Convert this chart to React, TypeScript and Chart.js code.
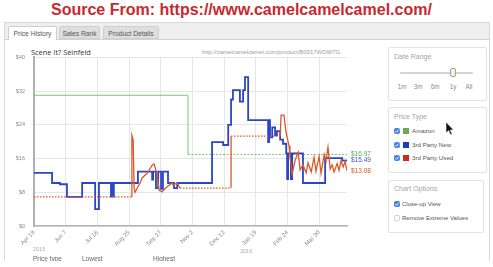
import React, { useEffect, useRef } from 'react';
import { Chart, registerables } from 'chart.js';

Chart.register(...registerables);

// ---- data (x = position measured in x-axis tick intervals, y = price in $) ----
const xTickLabels = ['Apr 19', 'Jun 7', 'Jul 16', 'Aug 25', 'Sep 27', 'Nov 2', 'Dec 12', 'Jan 19', 'Feb 24', 'Mar 30'];
const xEnd = 9.88;
const yMax = 40;
const yStep = 8;

const amazonPrices: [number, number][] = [
  [0, 31], [4.86, 16.97], [9.88, 16.97],
];

const newPrices: [number, number][] = [
  [0, 12.6], [0.57, 10.2], [0.82, 9.9], [1.04, 6.9], [1.52, 10.2], [1.93, 4.0], [2.05, 10.2],
  [2.43, 7.0], [2.46, 10.2], [2.49, 7.0], [2.52, 10.2], [3.28, 12.9], [3.73, 11.0], [3.76, 12.9],
  [3.85, 9.0], [3.92, 12.9], [4.01, 8.8], [4.07, 12.9], [4.23, 10.2], [4.42, 9.0], [4.52, 10.2],
  [5.62, 19.9], [5.97, 19.2], [6.13, 24.0], [6.22, 30.0], [6.28, 32.2], [6.5, 29.5], [6.6, 32.2],
  [6.66, 35.3], [6.76, 25.1], [7.39, 19.9], [7.42, 25.1], [7.45, 21.0], [7.52, 23.4], [7.61, 21.5],
  [7.67, 22.5], [7.77, 20.5], [7.86, 19.5], [7.96, 17.2], [7.99, 11.1], [8.02, 17.2], [8.11, 11.1],
  [8.15, 17.2], [8.49, 10.2], [9.19, 16.1], [9.73, 15.49], [9.88, 15.49],
];

const usedPrices: [number, number][] = [
  [0, 6.9], [3.09, 6.9], [3.09, 21.5], [3.13, 20.4], [3.16, 9.0], [3.19, 8.0], [3.25, 8.9],
  [3.35, 10.2], [3.41, 11.4], [3.57, 12.5], [3.73, 14.4], [3.79, 14.7], [3.88, 12.5], [3.95, 8.5],
  [4.04, 8.1], [4.14, 8.9], [4.23, 9.5], [4.36, 10.2], [4.39, 9.7], [4.52, 10.2], [4.61, 9.0],
  [6.22, 9.0], [6.22, 21.3], [7.77, 21.3], [7.8, 26.3], [7.89, 26.3], [7.96, 22.0], [8.05, 19.0],
  [8.08, 16.5], [8.15, 12.3], [8.24, 15.5], [8.34, 17.5], [8.4, 13.3], [8.49, 14.5], [8.59, 12.6],
  [8.65, 15.0], [8.75, 12.8], [8.84, 16.3], [8.9, 13.0], [9.0, 16.5], [9.06, 12.5], [9.16, 17.0],
  [9.22, 15.5], [9.28, 18.7], [9.35, 13.5], [9.41, 14.5], [9.47, 12.8], [9.57, 14.8], [9.63, 13.2],
  [9.69, 15.5], [9.76, 14.0], [9.82, 15.3], [9.88, 13.08],
];

const seriesNames = ['Amazon', '3rd Party New', '3rd Party Used'];
const dateRangeOptions = ['1m', '3m', '6m', '1y', 'All'];
const chartOptionLabels = ['Close-up View', 'Remove Extreme Values'];

// ---- styling ----
const GREEN = '#7cc27a';
const BLUE = '#2a46c4';
const RED = '#d9592c';
const FONT = '"Liberation Sans", Arial, sans-serif';

const toPoints = (arr: [number, number][]) => arr.map(([x, y]) => ({ x, y }));

const endLabelPlugin = {
  id: 'endLabels',
  afterDatasetsDraw(chart: any) {
    const { ctx, chartArea, scales } = chart;
    ctx.save();
    ctx.font = `6.5px ${FONT}`;
    ctx.textBaseline = 'middle';
    ctx.textAlign = 'left';
    chart.data.datasets.forEach((ds: any) => {
      const last = ds.data[ds.data.length - 1];
      ctx.fillStyle = ds.labelColor;
      ctx.fillText('$' + last.y.toFixed(2), chartArea.right + 4, scales.y.getPixelForValue(last.y));
    });
    ctx.restore();
  },
};

function PriceChart() {
  const ref = useRef<HTMLCanvasElement | null>(null);
  useEffect(() => {
    if (!ref.current) return;
    const chart = new Chart(ref.current, {
      type: 'line',
      data: {
        datasets: [
          {
            label: seriesNames[0],
            data: toPoints(amazonPrices),
            borderColor: GREEN,
            borderWidth: 1,
            stepped: 'before',
            pointRadius: 0,
            order: 3,
            labelColor: '#5aa858',
            segment: {
              borderDash: (c: any) => (c.p1DataIndex === amazonPrices.length - 1 ? [2, 1.5] : undefined),
            },
          } as any,
          {
            label: seriesNames[1],
            data: toPoints(newPrices),
            borderColor: BLUE,
            borderWidth: 1.8,
            stepped: 'before',
            pointRadius: 0,
            order: 2,
            labelColor: '#3a55c8',
          } as any,
          {
            label: seriesNames[2],
            data: toPoints(usedPrices),
            borderColor: RED,
            borderWidth: 1.3,
            pointRadius: 0,
            order: 1,
            labelColor: '#d8582d',
            segment: {
              borderDash: (c: any) =>
                c.p0.parsed.y === c.p1.parsed.y && c.p1.parsed.x - c.p0.parsed.x > 1 ? [1.5, 1.5] : undefined,
            },
          } as any,
        ],
      },
      options: {
        animation: false,
        responsive: false,
        maintainAspectRatio: false,
        layout: { padding: { left: 0, top: 12, right: 33, bottom: 0 } },
        plugins: { legend: { display: false }, tooltip: { enabled: false }, title: { display: false } },
        scales: {
          x: {
            type: 'linear',
            min: 0,
            max: xEnd,
            afterBuildTicks: (scale: any) => {
              scale.ticks = xTickLabels.map((_, i) => ({ value: i }));
            },
            afterFit: (scale: any) => {
              scale.height = 35;
            },
            ticks: {
              autoSkip: false,
              maxRotation: 45,
              minRotation: 45,
              padding: 3,
              color: '#8a8a8a',
              font: { size: 6, family: FONT },
              callback: (v: any) => xTickLabels[Math.round(Number(v))] ?? '',
            },
            grid: { color: '#e6e6e6', lineWidth: 1, drawTicks: false },
            border: { color: '#b4b4b4', width: 1.5 },
          },
          y: {
            type: 'linear',
            min: 0,
            max: yMax,
            afterFit: (scale: any) => {
              scale.width = 34;
            },
            ticks: {
              stepSize: yStep,
              padding: 9,
              color: '#8a8a8a',
              font: { size: 5.5, family: FONT },
              callback: (v: any) => '$' + v,
            },
            grid: { color: '#e6e6e6', lineWidth: 1, drawTicks: false },
            border: { color: '#b0b0b0', width: 2 },
          },
        },
      },
      plugins: [endLabelPlugin],
    });
    return () => chart.destroy();
  }, []);
  return (
    <canvas
      ref={ref}
      width={380}
      height={216}
      style={{ position: 'absolute', left: 0, top: 45, width: 380, height: 216 }}
    />
  );
}

function CheckBox({ checked, x, y }: { checked: boolean; x: number; y: number }) {
  return (
    <svg width={6} height={6} style={{ position: 'absolute', left: x, top: y - 3 }}>
      <rect x={0.5} y={0.5} width={5} height={5} rx={1} fill={checked ? '#3e82e0' : '#fff'} stroke={checked ? '#3574cf' : '#bbb'} strokeWidth={0.7} />
      {checked && <path d="M1.3 3 L2.6 4.3 L4.8 1.6" stroke="#fff" strokeWidth={0.9} fill="none" />}
    </svg>
  );
}

const abs = (left: number, top: number, extra: React.CSSProperties = {}): React.CSSProperties => ({
  position: 'absolute',
  left,
  top,
  whiteSpace: 'nowrap',
  ...extra,
});

export default function App() {
  const typeColors = ['#6aa85c', '#1e3cbf', '#d12a1e'];
  const typeRows = [131, 145, 158];
  const rangeX = [402, 418, 435, 453, 469];
  return (
    <div style={{ position: 'relative', width: 493, height: 267, overflow: 'hidden', background: '#fff', fontFamily: FONT }}>
      <style>{'body{margin:0}'}</style>
      {/* heading */}
      <div style={abs(51, 2, { font: `bold 16px ${FONT}`, lineHeight: '16px', color: '#c62a2f' })}>
        Source From: https://www.camelcamelcamel.com/
      </div>

      {/* panel */}
      <div style={{ position: 'absolute', left: 0, top: 0, width: 493, height: 261, overflow: 'hidden' }}>
        <div style={abs(4, 22, { width: 484, height: 260, border: '1px solid #d8d8d8', background: '#fff' })} />
        <div style={abs(5, 23, { width: 484, height: 16, background: '#efefef', borderBottom: '1px solid #d2d2d2' })} />
        {[
          { t: 'Price History', l: 8, w: 49, active: true },
          { t: 'Sales Rank', l: 59, w: 41, active: false },
          { t: 'Product Details', l: 103, w: 56, active: false },
        ].map((tab) => (
          <div
            key={tab.t}
            style={abs(tab.l, 26, {
              width: tab.w,
              height: tab.active ? 14 : 13,
              background: tab.active ? '#fff' : '#dedede',
              border: '1px solid #cfcfcf',
              borderBottom: tab.active ? 'none' : '1px solid #cfcfcf',
              borderRadius: '2px 2px 0 0',
              font: `6.7px ${FONT}`,
              color: '#555',
              lineHeight: '13px',
              textAlign: 'center',
              boxSizing: 'border-box',
            })}
          >
            {tab.t}
          </div>
        ))}

        {/* chart header */}
        <div style={abs(31, 47, { font: `7.4px "Open Sans", sans-serif`, color: '#333', lineHeight: '10px' })}>Scene It? Seinfeld</div>
        <div style={abs(202, 48, { font: `5.9px ${FONT}`, color: '#a0a0a0', lineHeight: '8px' })}>
          http://camelcamelcamel.com/product/B0017WDWTG
        </div>

        <PriceChart />

        <div style={abs(33, 246, { font: `5.5px ${FONT}`, color: '#aaa', lineHeight: '6px' })}>2015</div>
        <div style={abs(240, 248, { font: `5.5px ${FONT}`, color: '#aaa', lineHeight: '6px' })}>2016</div>
        <div style={abs(33, 255, { font: `6.5px ${FONT}`, color: '#666', lineHeight: '8px' })}>Price type</div>
        <div style={abs(82, 255, { font: `6.5px ${FONT}`, color: '#666', lineHeight: '8px' })}>Lowest</div>
        <div style={abs(153, 255, { font: `6.5px ${FONT}`, color: '#666', lineHeight: '8px' })}>Highest</div>

        {/* sidebar: date range */}
        <div style={abs(388, 47, { width: 99, height: 54, border: '1px solid #e2e2e2', borderRadius: 2, boxSizing: 'border-box' })} />
        <div style={abs(394, 53, { font: `7px ${FONT}`, color: '#a5a5a5', lineHeight: '8px' })}>Date Range</div>
        <div style={abs(400, 72, { width: 73, height: 2, background: '#d5d5d5', borderRadius: 1 })} />
        <div style={abs(450, 68, { width: 6, height: 9, background: '#eef3e6', border: '1px solid #9aa88a', borderRadius: 2, boxSizing: 'border-box' })} />
        {dateRangeOptions.map((o, i) => (
          <div key={o} style={abs(rangeX[i] - 6, 83, { width: 12, textAlign: 'center', font: `6.3px ${FONT}`, color: '#8a8a8a', lineHeight: '8px' })}>
            {o}
          </div>
        ))}

        {/* sidebar: price type */}
        <div style={abs(388, 107, { width: 99, height: 66, border: '1px solid #e2e2e2', borderRadius: 2, boxSizing: 'border-box' })} />
        <div style={abs(394, 113, { font: `7px ${FONT}`, color: '#a5a5a5', lineHeight: '8px' })}>Price Type</div>
        {seriesNames.map((n, i) => (
          <React.Fragment key={n}>
            <CheckBox checked x={394} y={typeRows[i]} />
            <div style={abs(403, typeRows[i] - 3, { width: 6, height: 6, background: typeColors[i] })} />
            <div style={abs(412, typeRows[i] - 4, { font: `6.2px ${FONT}`, color: '#555', lineHeight: '8px' })}>{n}</div>
          </React.Fragment>
        ))}

        {/* sidebar: chart options */}
        <div style={abs(388, 180, { width: 96, height: 53, border: '1px solid #e2e2e2', borderRadius: 2, boxSizing: 'border-box' })} />
        <div style={abs(394, 185, { font: `7px ${FONT}`, color: '#a5a5a5', lineHeight: '8px' })}>Chart Options</div>
        {chartOptionLabels.map((n, i) => (
          <React.Fragment key={n}>
            <CheckBox checked={i === 0} x={394} y={[204, 218][i]} />
            <div style={abs(402, [204, 218][i] - 4, { font: `6px ${FONT}`, color: '#555', lineHeight: '8px' })}>{n}</div>
          </React.Fragment>
        ))}

        {/* mouse cursor */}
        <svg width={10} height={16} style={{ position: 'absolute', left: 445, top: 121 }}>
          <path d="M1 1 L1 12 L3.6 9.6 L5.6 14 L7.2 13.3 L5.3 9 L8.6 9 Z" fill="#111" stroke="#fff" strokeWidth={0.6} />
        </svg>
      </div>
    </div>
  );
}
